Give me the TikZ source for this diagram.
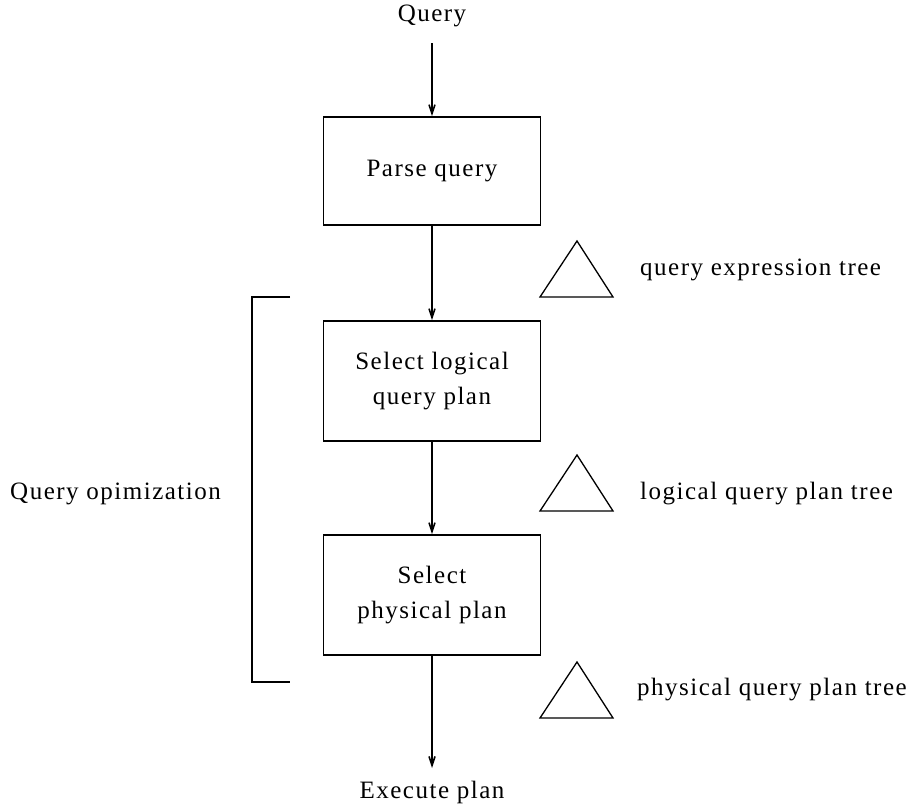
\documentclass[tikz,border=0pt]{standalone}
\usepackage{fontspec}
\setmainfont{Liberation Serif}[LetterSpace=6]
\usetikzlibrary{arrows.meta}
\begin{document}
\begin{tikzpicture}[x=1pt,y=-1pt,
  box/.style={draw,line width=1.6pt,minimum width=217pt,inner sep=0pt,align=center,font=\fontsize{25}{35}\selectfont},
  lbl/.style={inner sep=0pt,font=\fontsize{25}{35}\selectfont},
  arr/.style={line width=1.8pt,-{Straight Barb[length=9pt,width=6pt,line width=1.6pt]}},
  tri/.style={draw,line width=1.3pt},
  ln/.style={line width=1.6pt}]
\useasboundingbox (0,0) rectangle (916,807);
\node[lbl] (q) at (432,16) {Query};
\node[box,minimum height=108pt] (p) at (432,171) {Parse query};
\node[box,minimum height=120pt] (l) at (432,381) {Select logical\\query plan};
\node[box,minimum height=120pt] (s) at (432,595) {Select\\physical plan};
\node[lbl] (e) at (432,792) {Execute plan};
\coordinate (qBot) at (432,43);
\coordinate (eTop) at (432,768);
\draw[arr] (qBot) -- (p.north);
\draw[arr] (p.south) -- (l.north);
\draw[arr] (l.south) -- (s.north);
\draw[arr] (s.south) -- (eTop);
% triangles
\draw[tri] (577,241) -- (613,297) -- (540,297) -- cycle;
\draw[tri] (577,455) -- (613,511) -- (540,511) -- cycle;
\draw[tri] (577,662) -- (613,718) -- (540,718) -- cycle;
\node[lbl,anchor=west] (t1) at (640,270) {query expression tree};
\node[lbl,anchor=west] (t2) at (640,494) {logical query plan tree};
\node[lbl,anchor=west] (t3) at (637,690) {physical query plan tree};
% bracket
\coordinate (b1) at (290,297);
\coordinate (b2) at (252,297);
\coordinate (b3) at (252,682);
\coordinate (b4) at (290,682);
\draw[ln] (b1) -- (b2) -- (b3) -- (b4);
\node[lbl,anchor=west] (qo) at (10,494) {Query opimization};
\end{tikzpicture}
\end{document}
